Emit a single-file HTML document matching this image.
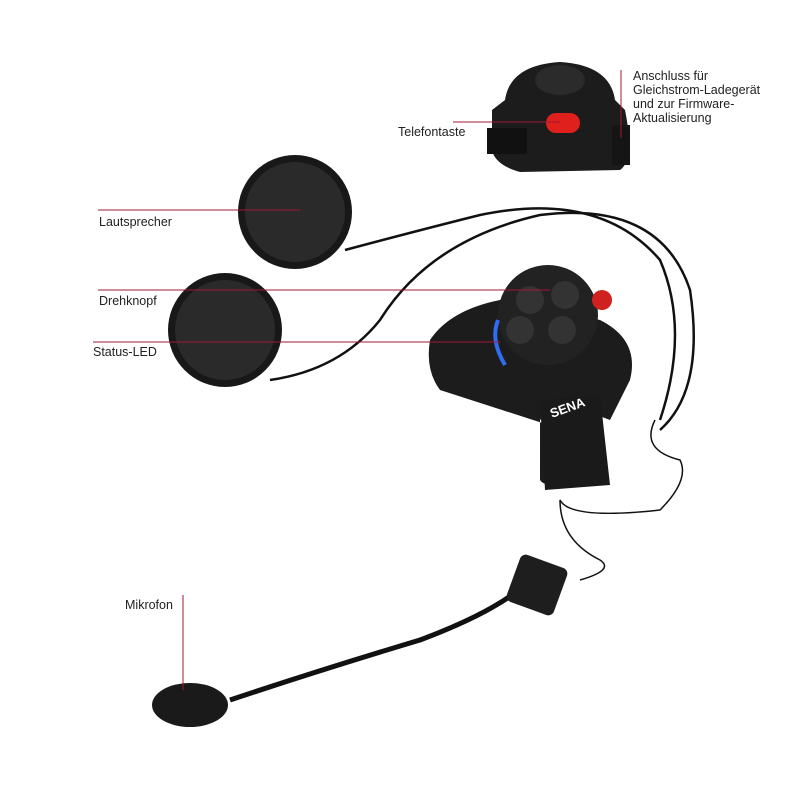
<!DOCTYPE html>
<html><head><style>
body{margin:0;background:#fff;}
svg{display:block}
text{font-family:"Liberation Sans",sans-serif;font-size:12.5px;fill:#222}
</style></head><body>
<svg width="800" height="800" viewBox="0 0 800 800">
<!-- top device -->
<path d="M505 100 Q510 65 560 62 Q610 65 615 100 L625 110 Q635 160 620 170 L520 172 Q495 165 492 150 L492 110 Z" fill="#1c1c1c"/>
<ellipse cx="560" cy="80" rx="25" ry="15" fill="#2b2b2b"/>
<rect x="487" y="128" width="40" height="26" fill="#111"/>
<rect x="612" y="125" width="18" height="40" fill="#151515"/>
<rect x="546" y="113" width="34" height="20" rx="10" fill="#e0201c"/>
<!-- cables -->
<path d="M345 250 Q420 230 480 215 Q600 190 660 260 Q690 330 660 420" stroke="#111" stroke-width="2.5" fill="none"/>
<path d="M270 380 Q340 370 380 320 Q430 240 540 215 Q660 200 690 290 Q705 390 660 430" stroke="#111" stroke-width="2.5" fill="none"/>
<path d="M655 420 Q640 450 680 460 Q690 480 660 510 Q570 520 560 500 Q560 540 600 560 Q615 570 580 580" stroke="#111" stroke-width="1.5" fill="none"/>
<!-- speakers -->
<circle cx="295" cy="212" r="57" fill="#181818"/>
<circle cx="295" cy="212" r="50" fill="#2a2a2a"/>
<circle cx="225" cy="330" r="57" fill="#181818"/>
<circle cx="225" cy="330" r="50" fill="#2a2a2a"/>
<!-- main unit -->
<path d="M430 340 Q450 310 500 300 L600 320 Q640 340 630 380 L610 420 Q560 400 540 420 L540 480 Q545 490 600 485 Q610 470 595 440 L440 390 Q425 370 430 340 Z" fill="#1c1c1c"/>
<path d="M540 400 L600 395 L610 485 L545 490 Z" fill="#1a1a1a"/>
<circle cx="548" cy="315" r="50" fill="#222"/>
<circle cx="530" cy="300" r="14" fill="#333"/><circle cx="565" cy="295" r="14" fill="#333"/>
<circle cx="520" cy="330" r="14" fill="#333"/><circle cx="562" cy="330" r="14" fill="#333"/>
<path d="M498 320 Q490 340 505 365" stroke="#2f6cf0" stroke-width="4" fill="none"/>
<circle cx="602" cy="300" r="10" fill="#d02020"/>
<text x="552" y="418" style="font-size:13px;font-weight:bold;fill:#fff" transform="rotate(-20 552 418)">SENA</text>
<!-- mic -->
<path d="M230 700 Q320 670 420 640 Q500 610 530 580" stroke="#111" stroke-width="5" fill="none"/>
<rect x="512" y="560" width="50" height="50" rx="6" fill="#1e1e1e" transform="rotate(20 537 585)"/>
<ellipse cx="190" cy="705" rx="38" ry="22" fill="#1a1a1a"/>
<!-- leader lines -->
<g stroke="#a01830" stroke-width="1" fill="none">
<line x1="621" y1="70" x2="621" y2="138"/>
<line x1="453" y1="122" x2="560" y2="122"/>
<line x1="98" y1="210" x2="300" y2="210"/>
<line x1="98" y1="290" x2="550" y2="290"/>
<line x1="93" y1="342" x2="500" y2="342"/>
<line x1="183" y1="595" x2="183" y2="690"/>
</g>
<text x="633" y="80">Anschluss für</text>
<text x="633" y="94">Gleichstrom-Ladegerät</text>
<text x="633" y="108">und zur Firmware-</text>
<text x="633" y="122">Aktualisierung</text>
<text x="398" y="136">Telefontaste</text>
<text x="99" y="226">Lautsprecher</text>
<text x="99" y="305">Drehknopf</text>
<text x="93" y="356">Status-LED</text>
<text x="125" y="609">Mikrofon</text>
</svg>
</body></html>
